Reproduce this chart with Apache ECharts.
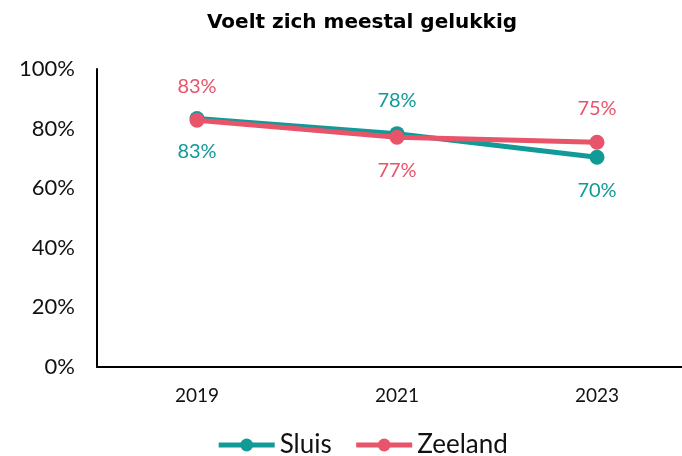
<!DOCTYPE html>
<html>
<head>
<meta charset="utf-8">
<script src="https://cdn.jsdelivr.net/npm/echarts@6/dist/echarts.min.js"></script>
<style>
  html, body { margin: 0; padding: 0; background: #fff; overflow: hidden; }
  #chart { width: 724px; height: 456px; }
</style>
</head>
<body>
<div id="chart"></div>
<script>
const years = ['2019', '2021', '2023'];
const sluis = [83.4, 78.3, 70.4];
const zeeland = [82.8, 77.1, 75.4];
const yTicks = [0, 20, 40, 60, 80, 100];

const teal = '#129a97';
const red = '#e8546a';
const font = 'Lato';

// label above or below each point
const sluisPos = ['bottom', 'top', 'bottom'];
const zeelandPos = ['top', 'bottom', 'top'];

function points(values, pos) {
  return values.map(function (v, i) {
    return { value: v, label: { position: pos[i] } };
  });
}

function makeSeries(name, values, pos, color, z) {
  return {
    name: name,
    type: 'line',
    z: z,
    data: points(values, pos),
    symbol: 'circle',
    symbolSize: 15,
    lineStyle: { color: color, width: 5 },
    itemStyle: { color: color },
    label: {
      show: true,
      distance: 16,
      color: color,
      fontFamily: font,
      fontSize: 20,
      formatter: function (p) { return Math.round(p.value) + '%'; }
    }
  };
}

// chart is a bit wider than the window so the x axis runs off the right edge
const chart = echarts.init(document.getElementById('chart'));
chart.setOption({
  animation: false,
  title: {
    text: 'Voelt zich meestal gelukkig',
    left: 'center',
    top: 8,
    textStyle: { fontFamily: 'DejaVu Sans', fontSize: 20, fontWeight: 'bold', color: '#000' }
  },
  legend: {
    bottom: -7,
    left: 'center',
    itemWidth: 56,
    itemHeight: 16,
    itemGap: 22,
    lineStyle: { width: 5 },
    textStyle: { fontFamily: font, fontSize: 26, color: '#111' },
    data: ['Sluis', 'Zeeland']
  },
  grid: { left: 97, right: 27, top: 69, bottom: 89 },
  xAxis: {
    type: 'category',
    data: years,
    axisLine: { lineStyle: { color: '#000', width: 2 } },
    axisTick: { show: false },
    axisLabel: { fontFamily: font, fontSize: 19, color: '#111', margin: 19 }
  },
  yAxis: {
    type: 'value',
    min: yTicks[0],
    max: yTicks[yTicks.length - 1],
    interval: yTicks[1] - yTicks[0],
    axisLine: { show: true, lineStyle: { color: '#000', width: 2 } },
    axisTick: { show: false },
    splitLine: { show: false },
    axisLabel: { fontFamily: font, fontSize: 22, color: '#111', margin: 22, formatter: '{value}%' }
  },
  series: [
    makeSeries('Sluis', sluis, sluisPos, teal, 2),
    makeSeries('Zeeland', zeeland, zeelandPos, red, 3)
  ]
});
</script>
</body>
</html>
